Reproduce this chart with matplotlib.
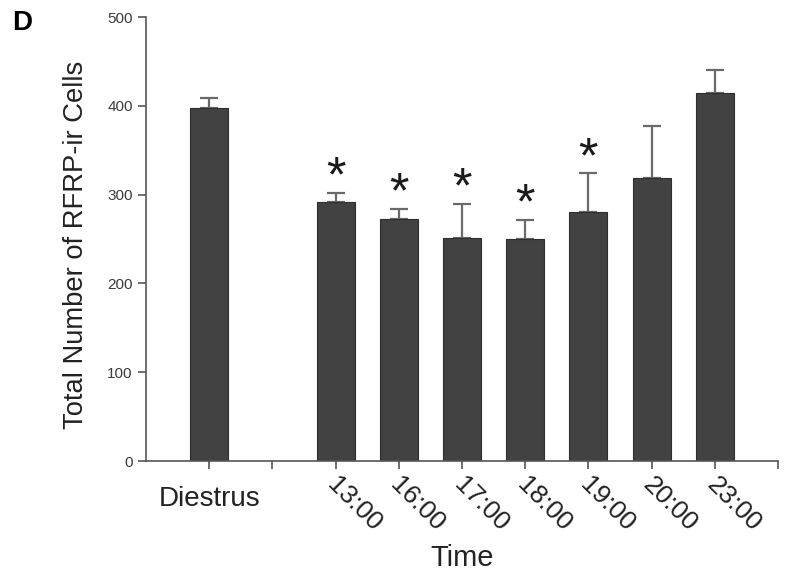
import matplotlib
matplotlib.use('Agg')
import numpy as np
import matplotlib.pyplot as plt
from matplotlib.transforms import ScaledTranslation

plt.rcParams['font.family'] = ['Liberation Sans', 'DejaVu Sans']

# datos
grupos = ['Diestrus', '13:00', '16:00', '17:00', '18:00', '19:00', '20:00', '23:00']
medias = [398, 292, 273, 251, 250, 280, 319, 415]
errores = [11, 10, 11, 39, 22, 44, 58, 25]
significativo = [False, True, True, True, True, True, False, False]

# Diestrus separado de las horas por un hueco
pos = np.array([0] + [2 + i for i in range(len(grupos) - 1)])

fig = plt.figure(figsize=(7.87, 5.72), dpi=100)
ax = fig.add_axes([0.1855, 0.194, 0.803, 0.776])

ax.bar(pos, medias, width=0.6, color='#424242', edgecolor='#2e2e2e', linewidth=0.8, zorder=2)
ax.errorbar(pos, medias, yerr=[np.zeros(len(errores)), errores], fmt='none',
            ecolor='#6a6a6a', elinewidth=1.6, capsize=6.5, capthick=1.6, zorder=1)

for x, m, e, s in zip(pos, medias, errores, significativo):
    if s:
        ax.text(x, m + e + 16, '*', ha='center', va='center', fontsize=36, color='#1a1a1a')

ax.set_xlim(-1, 9)
ax.set_ylim(0, 500)
ax.set_yticks(range(0, 501, 100))
ax.tick_params(axis='y', labelsize=11, labelcolor='#3a3a3a', color='#555555', length=6, width=1.2)

ticks = list(range(0, 10))
etiquetas = [''] * len(ticks)
for p, g in zip(pos, grupos):
    etiquetas[p] = g
ax.set_xticks(ticks)
ax.set_xticklabels(etiquetas, fontsize=19, color='#222222')
ax.tick_params(axis='x', color='#555555', length=6, width=1.2, pad=4)

for lab in ax.get_xticklabels():
    if lab.get_text() == 'Diestrus':
        lab.set_rotation(0)
        lab.set_ha('center')
        lab.set_fontsize(20)
        lab.set_transform(lab.get_transform() + ScaledTranslation(0, -0.11, fig.dpi_scale_trans))
    else:
        lab.set_rotation(-45)
        lab.set_ha('left')
        lab.set_va('top')
        lab.set_rotation_mode('anchor')
        lab.set_transform(lab.get_transform() + ScaledTranslation(0.04, 0.02, fig.dpi_scale_trans))

for s in ['top', 'right']:
    ax.spines[s].set_visible(False)
for s in ['left', 'bottom']:
    ax.spines[s].set_color('#555555')
    ax.spines[s].set_linewidth(1.2)

ax.set_ylabel('Total Number of RFRP-ir Cells', fontsize=19.7, color='#222222')
ax.yaxis.set_label_coords(-0.090, 0.4865)
ax.set_xlabel('Time', fontsize=21, color='#222222')
ax.xaxis.set_label_coords(0.5, -0.236)
ax.xaxis.label.set_va('baseline')

fig.text(0.016, 0.96, 'D', fontsize=20, fontweight='bold', ha='left', va='center')

fig.savefig('out.png', dpi=100)
plt.close(fig)
